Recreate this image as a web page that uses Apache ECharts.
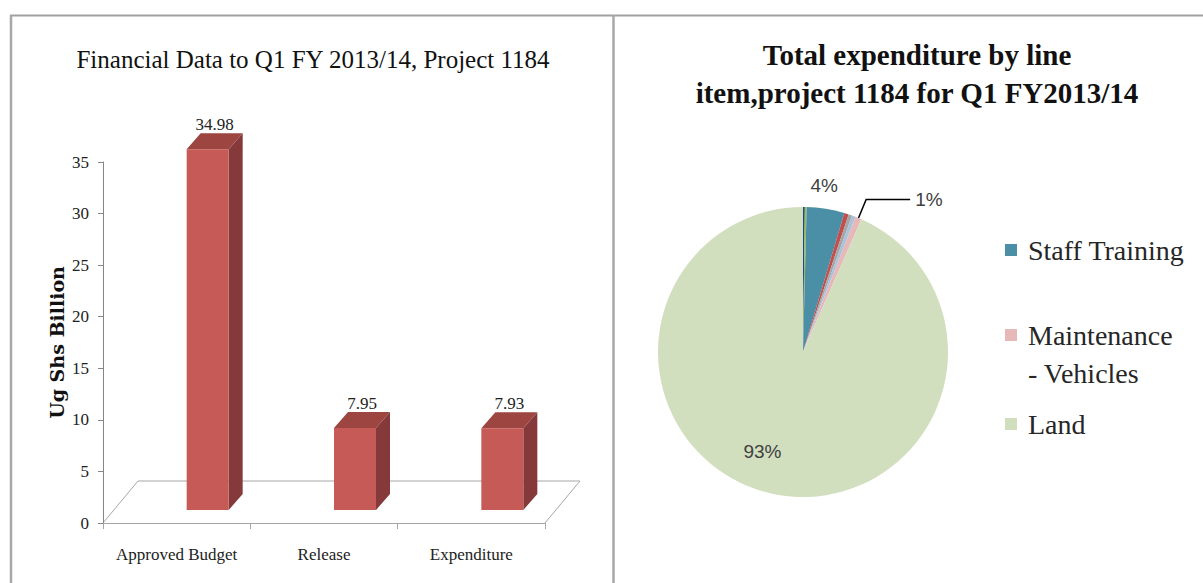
<!DOCTYPE html>
<html>
<head>
<meta charset="utf-8">
<script src="https://cdn.jsdelivr.net/npm/echarts@6/dist/echarts.min.js"></script>
<style>
  html, body { margin: 0; padding: 0; background: #fff; }
  #chart { width: 1203px; height: 583px; }
</style>
</head>
<body>
<div id="chart"></div>
<script>
// bar chart data
const barCategories = ['Approved Budget', 'Release', 'Expenditure']
const barValues = [34.98, 7.95, 7.93]
const yMin = 0
const yMax = 35
const yStep = 5

// pie data (share of total, %)
const sliceNames = ['Other item 1', 'Other item 2', 'Staff Training', 'Other item 3', 'Other item 4', 'Other item 5', 'Maintenance - Vehicles', 'Land']
const sliceShares = [0.2, 0.2, 4.2, 0.5, 0.4, 0.4, 0.7, 93.4]
const legendNames = ['Staff Training', 'Maintenance - Vehicles', 'Land']

// styles
const W = 1203
const H = 583
const GRID = { left: 103, right: 658, top: 162, bottom: 60 }
const FLOOR = { dx: 35, dy: 42 }
const BAR = { widthRatio: 0.285, shift: 31, lift: 13, depthX: 14, depthY: 16 }
const sliceColors = ['#1f497d', '#9bbb59', '#4a8fa5', '#c0504d', '#a5a5a5', '#a9c2dc', '#e6b9b8', '#d2dfbf']
const serif = '"Liberation Serif", "Times New Roman", serif'

function renderBar(params, api) {
  const idx = api.value(0)
  const val = api.value(1)
  const top = api.coord([idx, val])
  const base = api.coord([idx, 0])
  const band = api.size([1, 0])[0]
  const w = band * BAR.widthRatio
  const x0 = top[0] + BAR.shift - w / 2
  const x1 = x0 + w
  const yT = top[1] - BAR.lift
  const yB = base[1] - BAR.lift
  const dx = BAR.depthX
  const dy = BAR.depthY
  return {
    type: 'group',
    children: [
      { type: 'polygon', shape: { points: [[x1, yT], [x1, yB], [x1 + dx, yB - dy], [x1 + dx, yT - dy]] }, style: { fill: '#85393a' } },
      { type: 'polygon', shape: { points: [[x0, yT], [x1, yT], [x1 + dx, yT - dy], [x0 + dx, yT - dy]] }, style: { fill: '#9c4541' } },
      { type: 'rect', shape: { x: x0, y: yT, width: w, height: yB - yT }, style: { fill: '#c55a57' } },
      {
        type: 'text',
        style: {
          text: val.toFixed(2), x: (x0 + x1 + dx) / 2, y: yT - dy,
          align: 'center', verticalAlign: 'bottom', font: '17px ' + serif, fill: '#222'
        }
      }
    ]
  }
}

const pieData = sliceNames.map((name, i) => {
  const item = { name: name, value: sliceShares[i], itemStyle: { color: sliceColors[i] } }
  if (name === 'Staff Training') {
    item.label = { show: true, position: 'outside', distanceToLabelLine: -19 }
    item.labelLine = { show: false, length: 24, length2: 0 }
  } else if (name === 'Maintenance - Vehicles') {
    item.label = { show: true, position: 'outside' }
    item.labelLine = { show: true, length: 20, length2: 44, lineStyle: { color: '#000', width: 1.5 } }
  } else if (name === 'Land') {
    item.label = { show: true, position: 'inside' }
  }
  return item
})

// the marker sits beside the first line of a wrapped legend entry,
// so an empty leading line is added to keep the text block centred on it
function legendFor(name, top) {
  return {
    data: [name],
    left: 1005,
    top: top,
    padding: 0,
    icon: 'rect',
    itemWidth: 12,
    itemHeight: 12,
    selectedMode: false,
    formatter: n => (n.indexOf(' - ') >= 0 ? '\n' + n.replace(' - ', '\n- ') : n),
    textStyle: { fontFamily: serif, fontSize: 28, color: '#262626', lineHeight: 38, padding: [0, 0, 0, 6] }
  }
}

const floorY = H - GRID.bottom
const floorL = GRID.left
const floorR = W - GRID.right

const option = {
  animation: false,
  title: [
    {
      text: 'Financial Data to Q1 FY 2013/14, Project 1184',
      left: 313, top: 47, padding: 0, textAlign: 'center',
      textStyle: { fontFamily: serif, fontSize: 25, fontWeight: 'normal', color: '#111' }
    },
    {
      text: 'Total expenditure by line\nitem,project 1184 for Q1 FY2013/14',
      left: 917, top: 36, padding: 0, textAlign: 'center',
      textStyle: { fontFamily: serif, fontSize: 29, fontWeight: 'bold', color: '#111', lineHeight: 38 }
    }
  ],
  legend: [
    legendFor(legendNames[0], 231),
    legendFor(legendNames[1], 278),
    legendFor(legendNames[2], 405)
  ],
  grid: { left: GRID.left, right: GRID.right, top: GRID.top, bottom: GRID.bottom },
  xAxis: {
    type: 'category',
    data: barCategories,
    axisLine: { lineStyle: { color: '#a6a6a6' } },
    axisTick: { show: true, length: 6, lineStyle: { color: '#a6a6a6' } },
    axisLabel: { interval: 0, margin: 23, fontFamily: serif, fontSize: 17, color: '#222' }
  },
  yAxis: {
    type: 'value',
    min: yMin, max: yMax, interval: yStep,
    name: 'Ug Shs Billion',
    nameLocation: 'middle',
    nameRotate: 90,
    nameGap: 37,
    nameTextStyle: { fontFamily: '"DejaVu Serif", serif', fontWeight: 'bold', fontSize: 19, color: '#111' },
    axisLine: { show: true, lineStyle: { color: '#868686' } },
    axisTick: { show: true, length: 5, lineStyle: { color: '#868686' } },
    axisLabel: { margin: 14, fontFamily: serif, fontSize: 17, color: '#222' },
    splitLine: { show: false }
  },
  graphic: [
    { type: 'line', z: -1, shape: { x1: 10, y1: 15.5, x2: W, y2: 15.5 }, style: { stroke: '#a0a0a0', lineWidth: 2 } },
    { type: 'line', z: -1, shape: { x1: 11, y1: 15, x2: 11, y2: H }, style: { stroke: '#a8a8a8', lineWidth: 2.5 } },
    { type: 'line', z: -1, shape: { x1: 613.5, y1: 15, x2: 613.5, y2: H }, style: { stroke: '#a8a8a8', lineWidth: 2.5 } },
    {
      type: 'polyline', z: 0,
      shape: { points: [[floorL, floorY], [floorL + FLOOR.dx, floorY - FLOOR.dy], [floorR + FLOOR.dx, floorY - FLOOR.dy], [floorR, floorY]] },
      style: { stroke: '#a6a6a6', fill: null, lineWidth: 1 }
    }
  ],
  series: [
    {
      type: 'custom',
      renderItem: renderBar,
      encode: { x: 0, y: 1 },
      data: barValues.map((v, i) => [i, v]),
      z: 3
    },
    {
      type: 'pie',
      center: [803, 352],
      radius: 145,
      startAngle: 90,
      clockwise: true,
      avoidLabelOverlap: false,
      itemStyle: { borderWidth: 0 },
      label: {
        show: false,
        fontFamily: '"Liberation Sans", Arial, sans-serif',
        fontSize: 19,
        color: '#404040',
        formatter: p => Math.round(p.percent) + '%'
      },
      labelLine: { show: false },
      labelLayout: p => (p.dataIndex === sliceNames.indexOf('Land') ? { dx: -25, dy: 26 } : {}),
      emphasis: { disabled: true },
      data: pieData
    }
  ]
}

const chart = echarts.init(document.getElementById('chart'), null, { renderer: 'svg' })
chart.setOption(option)
</script>
</body>
</html>
